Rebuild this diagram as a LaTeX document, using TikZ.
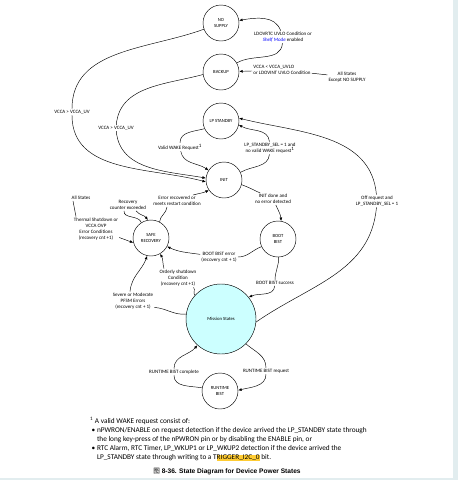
\documentclass[tikz,border=0pt]{standalone}
\usepackage{fontspec}
\setmainfont{Carlito}
\newfontfamily\capfont{Liberation Sans}
\newfontfamily\cjk{Noto Sans CJK SC}
\usetikzlibrary{arrows.meta}
\definecolor{missionfill}{RGB}{204,255,255}
\definecolor{hlyellow}{RGB}{255,204,51}
\definecolor{pageedge}{RGB}{226,237,239}

\begin{document}
\begin{tikzpicture}[x=1pt, y=1pt, >={Latex[length=3.5pt,width=2.8pt]}, line width=0.45pt,
    state/.style={circle, draw, minimum size=36pt, inner sep=0pt, align=center, font=\fontsize{4.7}{6}\selectfont},
    lbl/.style={align=center, inner sep=1pt, font=\fontsize{5}{6}\selectfont}]
    % page frame
    \useasboundingbox (0,0) rectangle (458,-480);
    \fill[pageedge] (453,0) rectangle (458,-480);
    \fill[pageedge] (0,-478) rectangle (458,-480);

    % states
    \node[state] (nosupply)  at (221,-23)  {NO\\SUPPLY};
    \node[state] (backup)    at (221,-72)  {BACKUP};
    \node[state] (lpstandby) at (221,-121) {LP STANDBY};
    \node[state] (init)      at (224,-180) {INIT};
    \node[state] (safe)      at (151,-238) {SAFE\\RECOVERY};
    \node[state] (boot)      at (278,-239) {BOOT\\BIST};
    \node[state, minimum size=70pt, fill=missionfill] (mission) at (221,-319) {Mission States};
    \node[state] (runtime)   at (220,-391) {RUNTIME\\BIST};

    % transition labels
    \node[lbl] (lshelf)  at (283,-37)  {LDOVRTC UVLO Condition or\\{\color{blue}\itshape Shelf Mode} enabled};
    \node[lbl, align=left] (lvinit) at (282,-70) {VCCA < VCCA\_UVLO\\or LDOVINT UVLO Condition};
    \node[lbl] (allx)    at (347,-77)  {All States\\Except NO SUPPLY};
    \node[lbl] (lvuv1)   at (72,-112)  {VCCA > VCCA\_UV};
    \node[lbl] (lvuv2)   at (116,-128) {VCCA > VCCA\_UV};
    \node[lbl] (lwake)   at (180,-147) {Valid WAKE Request\textsuperscript{1}};
    \node[lbl] (lsel)    at (270,-148) {LP\_STANDBY\_SEL = 1 and\\no valid WAKE request\textsuperscript{1}};
    \node[lbl] (loff)    at (377,-201) {Off request and\\LP\_STANDBY\_SEL = 1};
    \node[lbl] (ldone)   at (273,-199) {INIT done and\\no error detected};
    \node[lbl] (lerr)    at (177,-201) {Error recovered or\\meets restart condition};
    \node[lbl] (lcnt)    at (128,-205) {Recovery\\counter exceeded};
    \node[lbl] (allsafe) at (81,-198)  {All States};
    \node[lbl] (ltherm)  at (96,-229)  {Thermal Shutdown or\\VCCA OVP\\Error Conditions\\(recovery cnt +1)};
    \node[lbl] (lbist)   at (219,-257) {BOOT BIST error\\(recovery cnt + 1)};
    \node[lbl] (lorder)  at (178,-278) {Orderly shutdown\\Condition\\(recovery cnt +1)};
    \node[lbl] (lsucc)   at (275,-283) {BOOT BIST success};
    \node[lbl] (lsevere) at (133,-301) {Severe or Moderate\\PFSM Errors\\(recovery cnt + 1)};
    \node[lbl] (lrtreq)  at (266,-371) {RUNTIME BIST request};
    \node[lbl] (lrtcmp)  at (174,-372) {RUNTIME BIST complete};

    % transitions
    \draw[->] (backup.30) to[out=30,in=-95] (lshelf) to[out=110,in=10] (nosupply.8);
    \draw[->] (allx) -- (lvinit) -- (backup);
    \draw[->] (nosupply.200) to[out=200,in=90] (lvuv1) to[out=-90,in=165] (init.186);
    \draw[->] (backup.188) to[out=195,in=85] (lvuv2) to[out=-85,in=170] (init.174);
    \draw[->] (lpstandby.205) to[out=195,in=90] (lwake) to[out=-80,in=145] (init.148);
    \draw[->] (init.25) to[out=30,in=-95] (lsel) to[out=95,in=-30] (lpstandby.-12);
    \draw[->] (mission.-5) to[out=35,in=-95] (loff) to[out=95,in=-14] (lpstandby.9);
    \draw[->] (init.-15) to[out=-20,in=155] (ldone) to[out=-65,in=95] (boot.80);
    \draw[->] (boot.205) to[out=200,in=0] (lbist) to[out=172,in=-25] (safe.-28);
    \draw[->] (boot.-88) to[out=-88,in=90] (lsucc) to[out=-95,in=25] (mission.38);
    \draw[->] (safe.62) to[out=85,in=-95] ([xshift=-10pt]lerr.south) ([xshift=16pt]lerr.north) to[out=15,in=205] (init.214);
    \draw[->] (safe.122) to[out=110,in=-95] ([xshift=-4pt]lcnt.south) ([xshift=8pt]lcnt.south) to[out=-50,in=125] (safe.100);
    \draw ([xshift=-8pt]allsafe.south) -- ([xshift=-20pt]ltherm.north);
    \draw[->] (ltherm) -- (safe.195);
    \draw[->] (mission.138) to[out=130,in=-50] ([xshift=-4pt]lorder.south east) ([xshift=-14pt]lorder.north) to[out=105,in=-60] (safe.-60);
    \draw[->] (mission.172) to[out=185,in=-5] ([yshift=3pt]lsevere.south east) ([xshift=-3pt]lsevere.north) to[out=85,in=-110] (safe.-102);
    \draw[->] (mission.-45) to[out=-40,in=90] (lrtreq) to[out=-90,in=15] (runtime.2);
    \draw[->] (runtime.170) to[out=170,in=-90] (lrtcmp) to[out=90,in=230] (mission.228);

    % footnote
    \node[anchor=north west, align=left, inner sep=0pt, font=\fontsize{7.3}{9}\selectfont] (fnote) at (90,-417)
      {\textsuperscript{1} A valid WAKE request consist of:\\
       \hspace{1.5pt}\textbullet\ nPWRON/ENABLE on request detection if the device arrived the LP\_STANDBY state through\\
       \hspace{1.5pt}\hphantom{\textbullet\ }the long key-press of the nPWRON pin or by disabling the ENABLE pin, or\\
       \hspace{1.5pt}\textbullet\ RTC Alarm, RTC Timer, LP\_WKUP1 or LP\_WKUP2 detection if the device arrived the\\
       \hspace{1.5pt}\hphantom{\textbullet\ }LP\_STANDBY state through writing to a T{\setlength{\fboxsep}{0pt}\colorbox{hlyellow}{RIGGER\_I2C\_0}} bit.};

    % caption
    \node[font={\capfont\bfseries\fontsize{6.6}{8}\selectfont}] (caption) at (227,-472)
      {{\cjk\mdseries 图} 8-36. State Diagram for Device Power States};
\end{tikzpicture}
\end{document}
